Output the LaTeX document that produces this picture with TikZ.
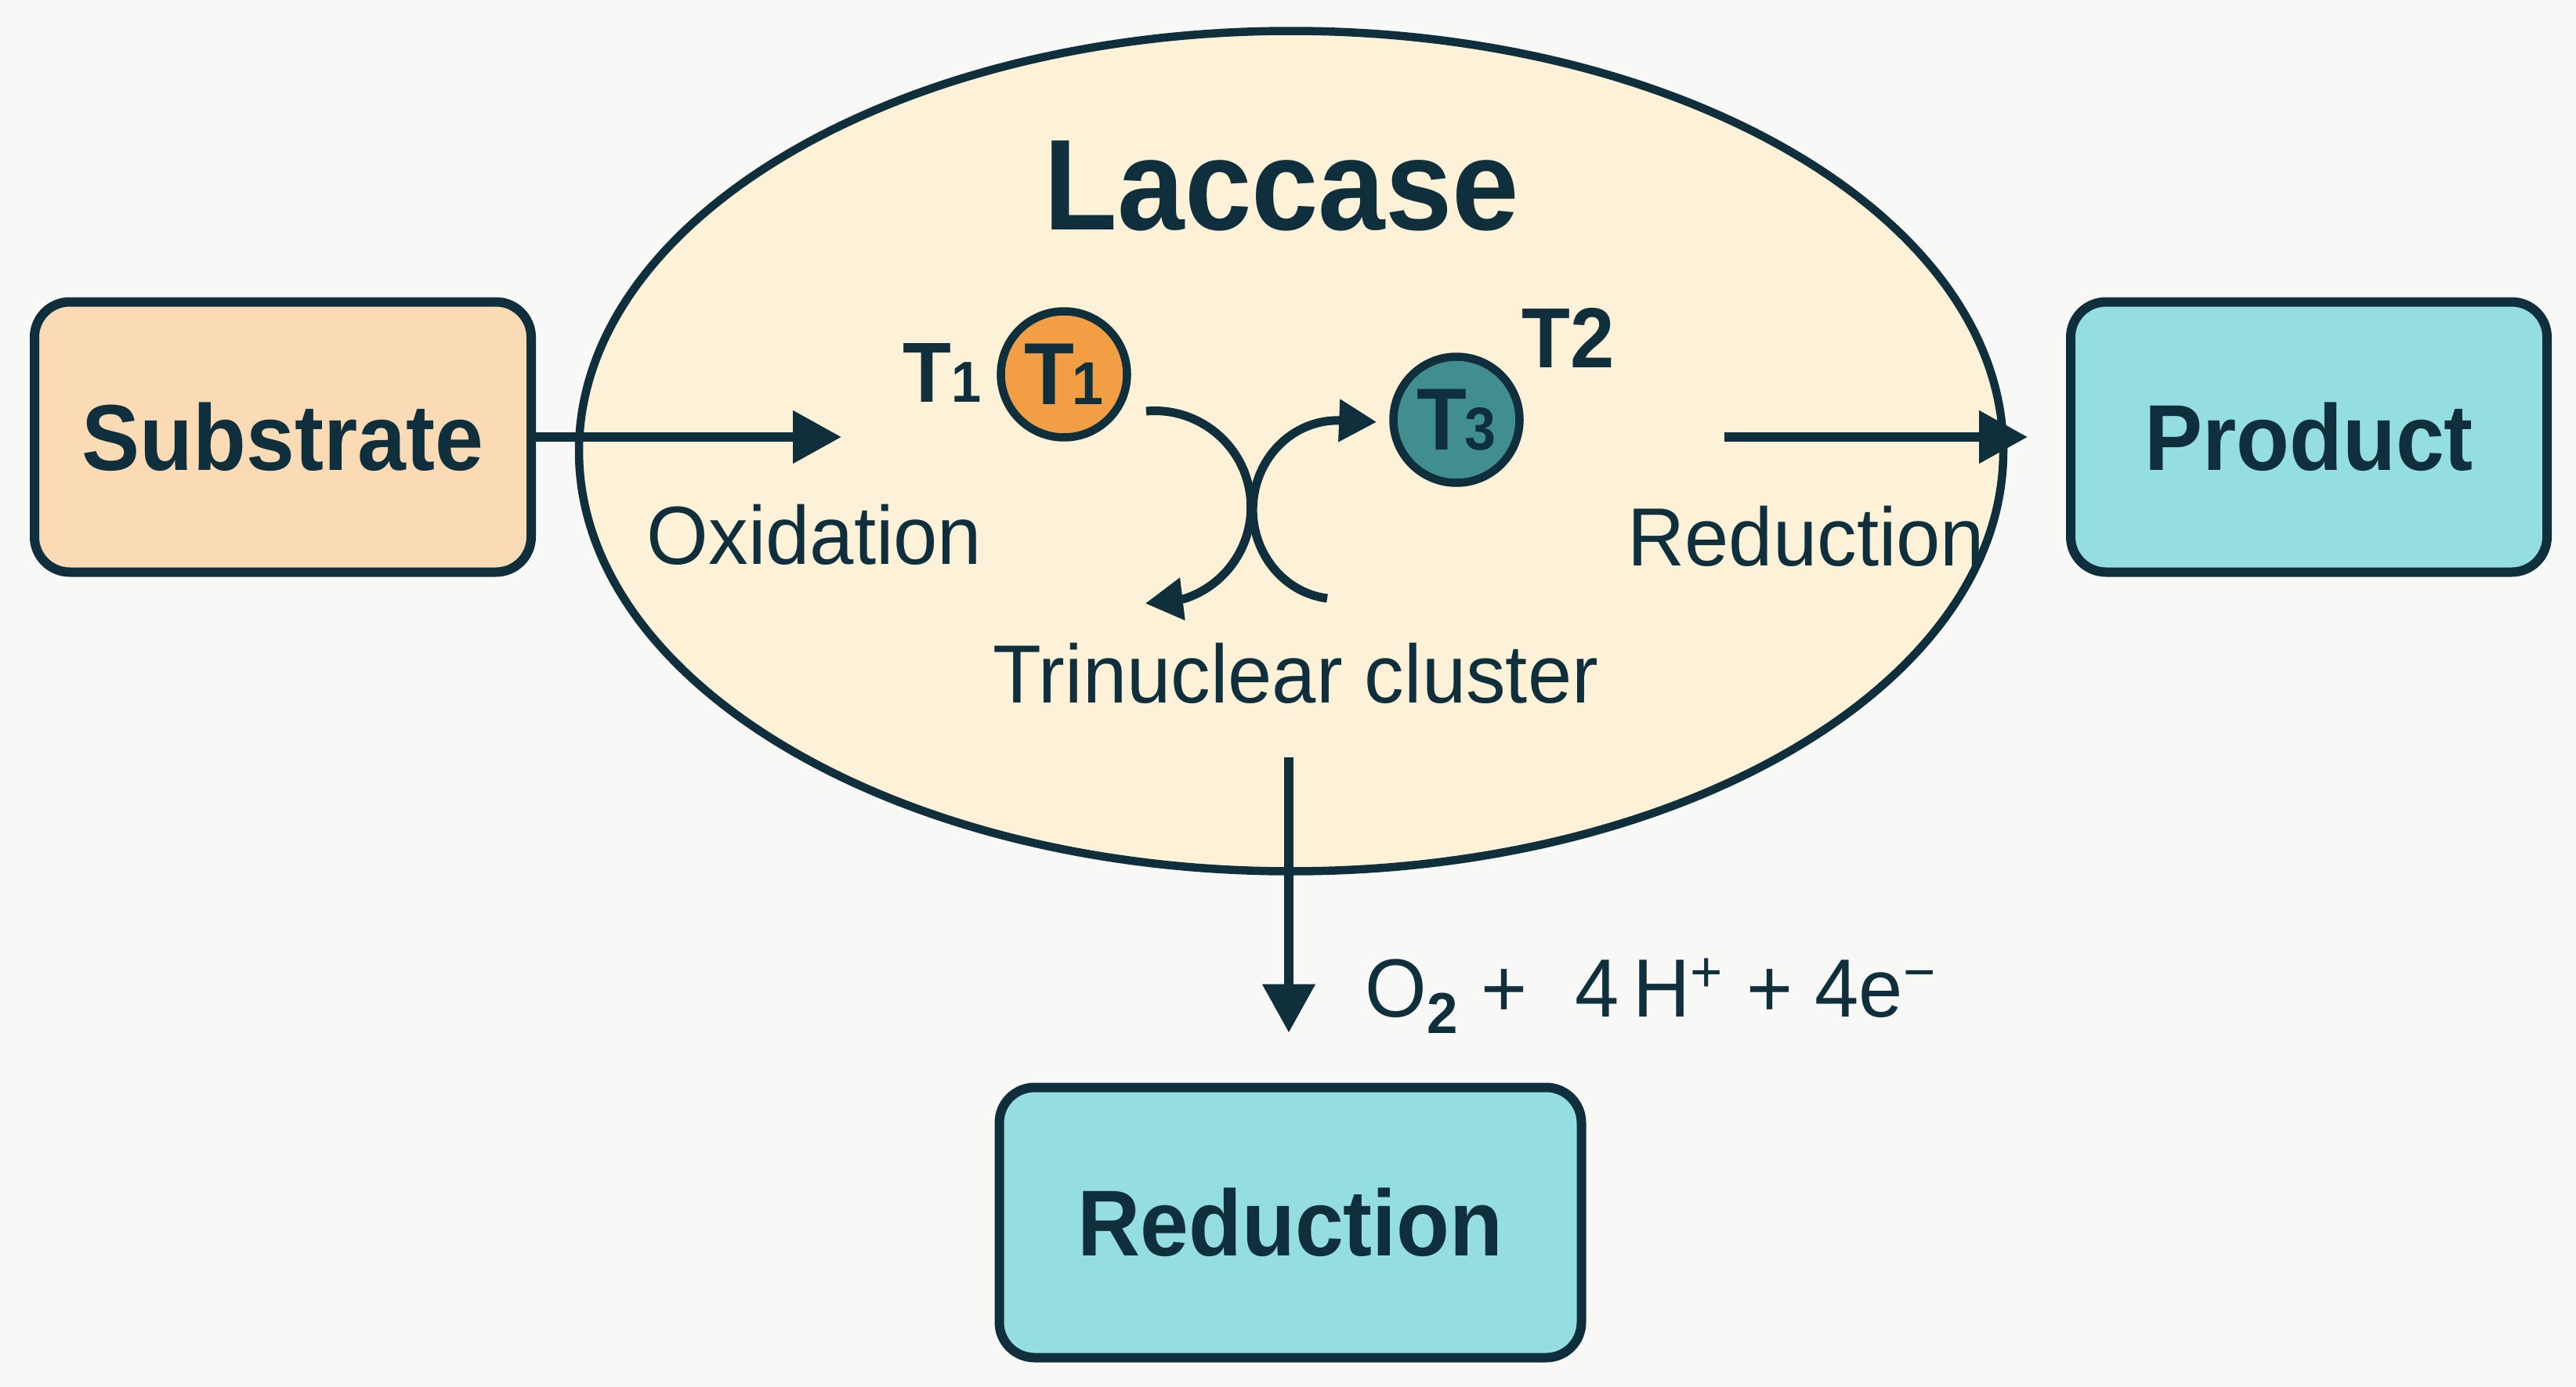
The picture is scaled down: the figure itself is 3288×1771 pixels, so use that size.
\documentclass[tikz,border=0pt]{standalone}
\usepackage{fontspec}
\setmainfont{Liberation Sans}[FakeStretch=0.93]
\newfontfamily\lblfont{Liberation Sans}[FakeStretch=0.96]
\usepackage{xcolor}
\usepackage{tikz}
\usetikzlibrary{shapes.geometric, arrows.meta, positioning}

\definecolor{bgcol}{HTML}{F8F8F6}
\definecolor{ink}{HTML}{0F2F3D}
\definecolor{peach}{HTML}{FBDBB6}
\definecolor{cream}{HTML}{FDF1D7}
\definecolor{aqua}{HTML}{94DDE0}
\definecolor{cuorange}{HTML}{F29E44}
\definecolor{cuteal}{HTML}{418E8E}

\begin{document}
\begin{tikzpicture}[
  x=0.1mm, y=-0.1mm,
  box/.style={rectangle, draw=ink, line width=1.2mm, rounded corners=4.5mm,
              minimum width=63.4mm, minimum height=34.5mm, text=ink,
              font=\fontsize{34}{40}\selectfont\bfseries},
  subbox/.style={box, fill=peach},
  outbox/.style={box, fill=aqua},
  cu/.style={circle, draw=ink, line width=1.05mm, minimum size=16.1mm,
             inner sep=0pt, text=ink, font=\fontsize{32}{32}\selectfont\bfseries},
  lbl/.style={inner sep=0pt, text=ink, font=\lblfont\fontsize{30}{36}\selectfont},
  tlbl/.style={inner sep=0pt, text=ink, font=\fontsize{31}{36}\selectfont\bfseries},
  arrow/.style={-{Triangle[length=6.2mm, width=6.5mm]}, line width=1.15mm, draw=ink},
  swirl/.style={-{Triangle[length=4.8mm, width=5.2mm]}, line width=1.1mm, draw=ink}
]
\useasboundingbox[fill=bgcol] (0,0) rectangle (3288,1771);

% enzyme body
\node[ellipse, draw=ink, line width=1.05mm, fill=cream, inner sep=0pt,
      minimum width=181.8mm, minimum height=107.3mm] (lac) at (1648,576) {};
\node[inner sep=0pt, anchor=base, text=ink,
      font=\fontsize{47}{47}\selectfont\bfseries] (title) at (1636,293) {Laccase};

% boxes
\node[subbox] (sub) at (361,558) {Substrate};
\node[outbox, minimum width=60.8mm] (prod) at (2947,558) {Product};
\node[outbox, minimum width=74.3mm] (red) at (1647,1561) {Reduction};

% copper sites
\node[cu, fill=cuorange] (t1) at (1358,478) {T\kern-0.03em{\fontsize{22}{22}\selectfont 1}};
\node[cu, fill=cuteal] (t3) at (1859,536) {T\kern-0.03em{\fontsize{22}{22}\selectfont 3}};
\node[tlbl, anchor=base east] (t1lbl) at (1253,513) {T{\fontsize{21}{21}\selectfont 1}};
\node[tlbl, anchor=base west] (t2lbl) at (1942,469) {T2};

% labels
\node[lbl, anchor=base west] (ox) at (825,720) {Oxidation};
\node[lbl, anchor=base east] (redlbl) at (2534,722) {Reduction};
\node[lbl, anchor=base] (tri) at (1654,897) {Trinuclear cluster};
\node[lbl, anchor=base west] (eq) at (1742,1298)
  {O\textsubscript{\bfseries 2} +\hspace{0.58em}4\,H\textsuperscript{+} + 4e\textsuperscript{−}};

% arrows
\coordinate (oxtip) at (1074,558);
\coordinate (redtail) at (2201,558);
\coordinate (dtail) at (1645,967);
\coordinate (swA) at (1463,525);
\coordinate (swB) at (1694,764);

\draw[arrow] (sub.east) -- (oxtip);
\draw[arrow, shorten >=4.9mm] (redtail) -- (prod.west);
\draw[arrow, shorten >=6.4mm] (dtail) -- (dtail |- red.north);
\draw[swirl] (swA) arc[start angle=-95, end angle=72, radius=123] -- ++(-50,6);
\draw[swirl] (swB) arc[start angle=97, end angle=270, x radius=108, y radius=114] -- ++(50,2);
\end{tikzpicture}
\end{document}
